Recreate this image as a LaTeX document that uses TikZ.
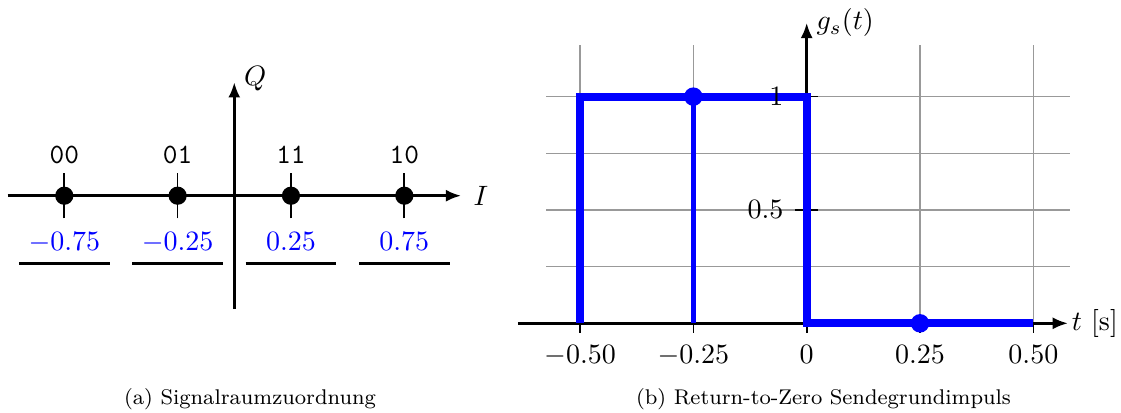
\documentclass[tikz,border=0pt]{standalone}
\usepackage{fix-cm}
\usepackage{tikz}
\usetikzlibrary{arrows.meta,positioning,calc}
\usepackage{xcolor}

\begin{document}
\begin{tikzpicture}[
    x=0.3571pt, y=-0.3571pt,
    font=\fontsize{10}{12}\selectfont,
    axisarr/.style={line width=0.9pt, -{Latex[length=5.4pt, width=4.3pt]}},
    symbol/.style={circle, fill=black, inner sep=0pt, minimum size=6.5pt},
    tickmark/.style={line width=0.6pt},
    gridline/.style={draw=black!40, line width=0.4pt},
    pulseline/.style={blue, line width=2.9pt},
    sample/.style={circle, fill=blue, inner sep=0pt, minimum size=6.6pt},
    ticklab/.style={inner sep=0pt},
    captext/.style={font=\fontsize{7.6}{9}\selectfont, anchor=base}
  ]
  \useasboundingbox (0,0) rectangle (1121,412);

  % (a) Signalraumzuordnung
  \begin{scope}[shift={(234.3,195.7)}, x=80.95pt, y=80.95pt]
    \coordinate (iin) at (-1,0);
    \coordinate (iout) at (1,0);
    \coordinate (qin) at (0,-0.5);
    \coordinate (qout) at (0,0.5);
    \draw[axisarr] (iin) -- (iout);
    \draw[axisarr] (qin) -- (qout);
    \node[right, xshift=1pt] (ilabel) at (iout) {$I$};
    \node[right, yshift=1.4pt] (qlabel) at (qout) {$Q$};
    \foreach \x/\bits/\nm in {-0.75/00/a, -0.25/01/b, 0.25/11/c, 0.75/10/d} {
      \draw[tickmark] (\x,-0.1) -- (\x,0.1);
      \node[symbol] (dot\nm) at (\x,0) {};
      \node[anchor=base, inner sep=0pt] (bits\nm) at (\x,0.144) {\texttt{\bits}};
      \node[anchor=base, inner sep=0pt, text=blue] (lvl\nm) at (\x,-0.24) {$\x$};
      \draw[line width=0.9pt] (\x-0.2,-0.3) -- (\x+0.2,-0.3);
    }
  \end{scope}

  % (b) Return-to-Zero Sendegrundimpuls
  \begin{scope}[shift={(806.7,323.3)}, x=161.9pt, y=80.95pt]
    \foreach \t in {-0.5,-0.25,0.25,0.5}
      \draw[gridline] (\t,0) -- (\t,1.228);
    \foreach \v in {0.25,0.5,0.75,1}
      \draw[gridline] (-0.575,\v) -- (0.58,\v);
    \coordinate (tin) at (-0.637,0);
    \coordinate (tout) at (0.576,0);
    \coordinate (gin) at (0,0);
    \coordinate (gout) at (0,1.325);
    \draw[axisarr] (tin) -- (tout);
    \draw[axisarr] (gin) -- (gout);
    \node[right, inner sep=1.2pt] (tlabel) at (tout) {$t$ [s]};
    \node[right] (glabel) at (gout) {$g_s(t)$};
    \foreach \t in {-0.5,-0.25,0,0.25,0.5}
      \draw[tickmark] (\t,0) -- ++(0,-3.6pt);
    \foreach \v in {0.5,1}
      \draw[tickmark] ([xshift=-4.2pt]0,\v) -- ([xshift=4.2pt]0,\v);
    % pulse
    \draw[pulseline] (-0.5,0) -- (-0.5,1) -- (0,1) -- (0,0) -- (0.5,0);
    \draw[blue, line width=1.8pt] (-0.25,0) -- (-0.25,1);
    \node[sample] (smpa) at (-0.25,1) {};
    \node[sample] (smpb) at (0.25,0) {};
    % tick labels
    \foreach \t/\lab/\nm in {-0.5/-0.50/a, -0.25/-0.25/b, 0/0/c, 0.25/0.25/d, 0.5/0.50/e}
      \node[ticklab, anchor=base] (xt\nm) at ([yshift=-14.2pt]\t,0) {$\lab$};
    \node[ticklab, anchor=base east] (yta) at ([xshift=-8.1pt, yshift=-3.2pt]0,0.5) {$0.5$};
    \node[ticklab, anchor=base east] (ytb) at ([xshift=-8.1pt, yshift=-3.2pt]0,1) {$1$};
  \end{scope}

  \node[captext] (capa) at (250,404.4) {(a) Signalraumzuordnung};
  \node[captext] (capb) at (823.5,404.4) {(b) Return-to-Zero Sendegrundimpuls};
\end{tikzpicture}
\end{document}
